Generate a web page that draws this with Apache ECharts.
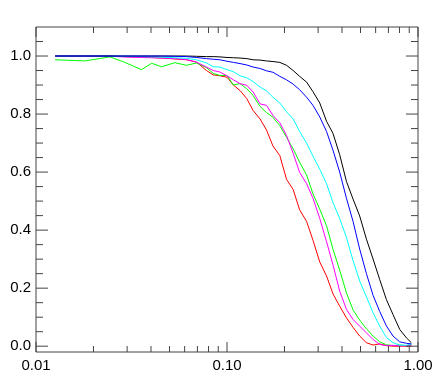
<!DOCTYPE html>
<html>
<head>
<meta charset="utf-8">
<script src="https://cdn.jsdelivr.net/npm/echarts@6.0.0/dist/echarts.min.js"></script>
<style>
  html, body { margin: 0; padding: 0; background: #fff; }
  #chart { width: 436px; height: 381px; }
</style>
</head>
<body>
<div id="chart"></div>
<script>
// x positions shared by all curves (log axis)
const xValues = [0.0126, 0.0180, 0.0244, 0.0287, 0.0357, 0.0403, 0.0454, 0.0533, 0.0614,
  0.0692, 0.0781, 0.0847, 0.0917, 0.100,
  0.108, 0.117, 0.127, 0.137, 0.149, 0.161, 0.174, 0.189, 0.205, 0.222,
  0.240, 0.261, 0.282, 0.306, 0.332, 0.359, 0.389, 0.422, 0.457, 0.495,
  0.537, 0.582, 0.630, 0.683, 0.740, 0.802, 0.869, 0.923]

const blackValues = [1, 1, 1, 1, 1, 1, 1, 1, 1,
  0.999, 0.998, 0.998, 0.997, 0.995,
  0.994, 0.993, 0.991, 0.987, 0.986, 0.983, 0.981, 0.978, 0.968, 0.950,
  0.930, 0.910, 0.877, 0.838, 0.775, 0.733, 0.660, 0.568, 0.507, 0.449,
  0.369, 0.300, 0.230, 0.161, 0.109, 0.058, 0.029, 0.012]

const blueValues = [1, 1, 1, 1, 1, 1, 1, 0.999, 0.998,
  0.995, 0.991, 0.989, 0.987, 0.982,
  0.978, 0.974, 0.969, 0.962, 0.957, 0.949, 0.944, 0.930, 0.918, 0.903,
  0.884, 0.858, 0.830, 0.790, 0.740, 0.675, 0.600, 0.510, 0.430, 0.335,
  0.250, 0.175, 0.120, 0.070, 0.035, 0.015, 0.010, 0.008]

const cyanValues = [1, 1, 1, 0.999, 0.998, 0.997, 0.996, 0.994, 0.992,
  0.987, 0.976, 0.963, 0.962, 0.953,
  0.946, 0.932, 0.925, 0.912, 0.893, 0.880, 0.858, 0.838, 0.808, 0.783,
  0.740, 0.700, 0.655, 0.610, 0.560, 0.495, 0.440, 0.375, 0.295, 0.225,
  0.170, 0.115, 0.069, 0.030, 0.012, 0.004, 0.003, 0.008]

const magentaValues = [1, 1, 0.999, 0.997, 0.995, 0.994, 0.993, 0.991, 0.988,
  0.979, 0.962, 0.950, 0.945, 0.932,
  0.918, 0.905, 0.899, 0.876, 0.835, 0.830, 0.795, 0.770, 0.726, 0.665,
  0.599, 0.560, 0.510, 0.440, 0.360, 0.280, 0.190, 0.127, 0.092, 0.069,
  0.046, 0.023, 0.006, 0.002, 0.003, 0.001, 0.002, 0.004]

const greenValues = [0.987, 0.983, 0.997, 0.980, 0.953, 0.975, 0.963, 0.977, 0.968,
  0.976, 0.960, 0.940, 0.933, 0.933,
  0.900, 0.905, 0.887, 0.864, 0.826, 0.805, 0.789, 0.760, 0.720, 0.680,
  0.634, 0.590, 0.525, 0.472, 0.415, 0.334, 0.262, 0.184, 0.125, 0.090,
  0.060, 0.035, 0.015, 0.005, 0.002, 0.004, 0.002, 0.005]

const redValues = [1, 1, 1, 0.998, 0.996, 0.995, 0.993, 0.990, 0.987,
  0.979, 0.950, 0.935, 0.932, 0.927,
  0.900, 0.881, 0.853, 0.812, 0.783, 0.745, 0.690, 0.657, 0.575, 0.540,
  0.470, 0.430, 0.365, 0.290, 0.242, 0.180, 0.138, 0.098, 0.065, 0.035,
  0.012, 0.004, 0.008, 0.002, 0, 0, 0, 0]

// tick values
const xMajorTicks = [0.01, 0.1, 1]
const xMinorTicks = [0.02, 0.03, 0.04, 0.05, 0.06, 0.07, 0.08, 0.09,
  0.2, 0.3, 0.4, 0.5, 0.6, 0.7, 0.8, 0.9]
const yMajorTicks = [0, 0.2, 0.4, 0.6, 0.8, 1.0]
const yMinorTicks = [0.05, 0.1, 0.15, 0.25, 0.3, 0.35, 0.45, 0.5, 0.55,
  0.65, 0.7, 0.75, 0.85, 0.9, 0.95, 1.05]

const X_MIN = 0.01
const X_MAX = 1
const Y_MIN = -0.02
const Y_MAX = 1.1
const AXIS_COLOR = '#444'

const chart = echarts.init(document.getElementById('chart'))

const toPairs = (ys) => xValues.map((x, i) => [x, ys[i]])

const makeLine = (name, color, ys) => ({
  name: name,
  type: 'line',
  data: toPairs(ys),
  showSymbol: false,
  symbol: 'none',
  lineStyle: { color: color, width: 1 },
  itemStyle: { color: color },
  silent: true
})

// tick marks: [x, y, kind]  kind 0 = x major, 1 = x minor, 2 = y major, 3 = y minor
const tickData = []
xMajorTicks.forEach(v => tickData.push([v, Y_MIN, 0]))
xMinorTicks.forEach(v => tickData.push([v, Y_MIN, 1]))
yMajorTicks.forEach(v => tickData.push([X_MIN, v, 2]))
yMinorTicks.forEach(v => tickData.push([X_MIN, v, 3]))

const tickStyle = { stroke: AXIS_COLOR, lineWidth: 1 }

const renderTick = (params, api) => {
  const kind = api.value(2)
  const children = []
  if (kind < 2) {
    const v = api.value(0)
    const len = kind === 0 ? 10 : 6
    const b = api.coord([v, Y_MIN])
    const t = api.coord([v, Y_MAX])
    children.push({ type: 'line', shape: { x1: b[0], y1: b[1], x2: b[0], y2: b[1] - len }, style: tickStyle })
    children.push({ type: 'line', shape: { x1: t[0], y1: t[1], x2: t[0], y2: t[1] + len }, style: tickStyle })
  } else {
    const v = api.value(1)
    const len = kind === 2 ? 12 : 7
    const l = api.coord([X_MIN, v])
    const r = api.coord([X_MAX, v])
    children.push({ type: 'line', shape: { x1: l[0], y1: l[1], x2: l[0] + len, y2: l[1] }, style: tickStyle })
    children.push({ type: 'line', shape: { x1: r[0], y1: r[1], x2: r[0] - len, y2: r[1] }, style: tickStyle })
  }
  return { type: 'group', children: children }
}

const option = {
  animation: false,
  backgroundColor: '#fff',
  grid: {
    left: 36,
    right: 18,
    top: 27,
    bottom: 29,
    show: true,
    borderColor: AXIS_COLOR,
    borderWidth: 1,
    backgroundColor: 'transparent'
  },
  xAxis: {
    type: 'log',
    logBase: 10,
    min: X_MIN,
    max: X_MAX,
    axisLine: { show: false },
    axisTick: { show: false },
    splitLine: { show: false },
    axisLabel: {
      color: '#000',
      fontFamily: 'Liberation Sans',
      fontSize: 15,
      margin: 6,
      formatter: (v) => Number(v).toFixed(2)
    }
  },
  yAxis: {
    type: 'value',
    min: Y_MIN,
    max: Y_MAX,
    axisLine: { show: false },
    axisTick: { show: false },
    splitLine: { show: false },
    axisLabel: {
      color: '#000',
      fontFamily: 'Liberation Sans',
      fontSize: 15,
      margin: 5,
      showMinLabel: false,
      showMaxLabel: false,
      formatter: (v) => Number(v).toFixed(1)
    }
  },
  series: [
    {
      type: 'custom',
      renderItem: renderTick,
      data: tickData,
      silent: true,
      clip: false,
      z: 10
    },
    makeLine('red', '#ff0000', redValues),
    makeLine('green', '#00ff00', greenValues),
    makeLine('magenta', '#ff00ff', magentaValues),
    makeLine('cyan', '#00ffff', cyanValues),
    makeLine('black', '#000000', blackValues),
    makeLine('blue', '#0000ff', blueValues)
  ]
}

chart.setOption(option)
</script>
</body>
</html>
